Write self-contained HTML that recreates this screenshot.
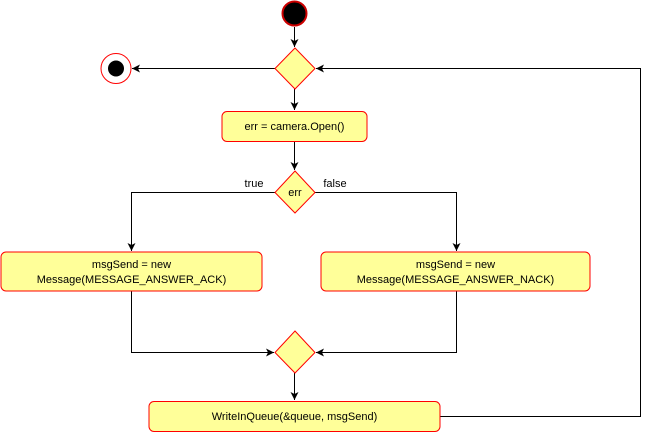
<!DOCTYPE html>
<html><head><style>body{margin:0;background:#fff}svg{display:block}</style></head>
<body>
<svg width="649" height="432" xmlns="http://www.w3.org/2000/svg" font-family="Liberation Sans, sans-serif" font-size="11">
<defs><marker id="a" markerWidth="10" markerHeight="10" refX="9" refY="5" orient="auto" markerUnits="userSpaceOnUse"><path d="M1,1 L9,5 L1,9 L3,5 Z" fill="#000"/></marker></defs>
<g stroke="#000" fill="none" stroke-width="1">
<line x1="294.5" y1="27" x2="294.5" y2="47" marker-end="url(#a)"/>
<line x1="275" y1="68.5" x2="132" y2="68.5" marker-end="url(#a)"/>
<line x1="294.5" y1="89" x2="294.5" y2="110" marker-end="url(#a)"/>
<line x1="294.5" y1="141" x2="294.5" y2="170" marker-end="url(#a)"/>
<polyline points="275,192.5 131.5,192.5 131.5,251" marker-end="url(#a)"/>
<polyline points="315,192.5 456.5,192.5 456.5,251" marker-end="url(#a)"/>
<polyline points="131.5,291 131.5,352.5 274,352.5" marker-end="url(#a)"/>
<polyline points="456.5,291 456.5,352.5 316,352.5" marker-end="url(#a)"/>
<line x1="294.5" y1="373" x2="294.5" y2="400" marker-end="url(#a)"/>
<polyline points="440,416.5 640.5,416.5 640.5,68.5 316,68.5" marker-end="url(#a)"/>
</g>
<circle cx="294.5" cy="13.5" r="12" fill="#000" stroke="#c00" stroke-width="2"/>
<circle cx="116" cy="68.5" r="15" fill="#fff" stroke="#f00"/>
<circle cx="116" cy="68.5" r="8" fill="#000"/>
<g fill="#ffff99" stroke="#f00">
<polygon points="295,48 315,68.5 295,89 275,68.5"/>
<polygon points="295,171 315,192.5 295,213 275,192.5"/>
<polygon points="295,331 315,352.5 295,373 275,352.5"/>
<rect x="222" y="111.5" width="145" height="30" rx="5"/>
<rect x="1" y="252" width="261" height="39" rx="5"/>
<rect x="321" y="252" width="269" height="39" rx="5"/>
<rect x="149" y="401.5" width="291" height="30" rx="5"/>
</g>
<g fill="#000" text-anchor="middle">
<text x="294.5" y="130">err = camera.Open()</text>
<text x="295" y="196">err</text>
<text x="254" y="187">true</text>
<text x="335" y="187">false</text>
<text x="131.5" y="268">msgSend = new</text>
<text x="131.5" y="283">Message(MESSAGE_ANSWER_ACK)</text>
<text x="455.5" y="268">msgSend = new</text>
<text x="455.5" y="283">Message(MESSAGE_ANSWER_NACK)</text>
<text x="294.5" y="420">WriteInQueue(&amp;queue, msgSend)</text>
</g>
</svg>
</body></html>
